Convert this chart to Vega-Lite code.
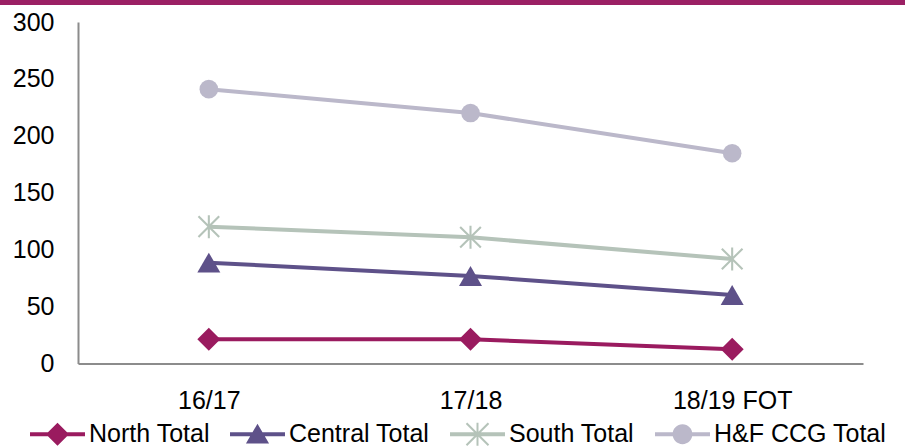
{
  "$schema": "https://vega.github.io/schema/vega-lite/v6.json",
  "width": 785,
  "height": 341.5,
  "autosize": {"type": "none"},
  "padding": {"left": 78, "top": 22, "right": 42, "bottom": 84.5},
  "background": "white",
  "config": {
    "view": {"stroke": null},
    "font": "Liberation Sans",
    "axis": {"labelFont": "Liberation Sans", "labelFontSize": 25, "labelColor": "#000000", "domainColor": "#8c8c8c", "domainWidth": 2, "ticks": false, "tickSize": 0, "grid": false, "title": null},
    "legend": {"labelFont": "Liberation Sans", "labelFontSize": 25, "labelColor": "#000000", "labelLimit": 0, "orient": "none", "legendX": -48, "legendY": 384.5, "direction": "horizontal", "symbolSize": 3025, "symbolStrokeWidth": 0, "labelOffset": 4, "columnPadding": 20, "padding": 0}
  },
  "data": {
    "values": [
      {"period": "16/17", "series": "North Total", "value": 21.3},
      {"period": "17/18", "series": "North Total", "value": 21.3},
      {"period": "18/19 FOT", "series": "North Total", "value": 12.5},
      {"period": "16/17", "series": "Central Total", "value": 88.6},
      {"period": "17/18", "series": "Central Total", "value": 76.9},
      {"period": "18/19 FOT", "series": "Central Total", "value": 60.2},
      {"period": "16/17", "series": "South Total", "value": 120.2},
      {"period": "17/18", "series": "South Total", "value": 110.9},
      {"period": "18/19 FOT", "series": "South Total", "value": 91.8},
      {"period": "16/17", "series": "H&F CCG Total", "value": 241},
      {"period": "17/18", "series": "H&F CCG Total", "value": 220},
      {"period": "18/19 FOT", "series": "H&F CCG Total", "value": 184.7}
    ]
  },
  "resolve": {"scale": {"x": "independent"}},
  "layer": [
    {
      "data": {"values": [{"band": "top"}]},
      "mark": {"type": "rule", "color": "#9b2064", "strokeWidth": 5, "clip": false},
      "encoding": {
        "x": {"datum": -0.0994, "type": "quantitative", "scale": {"domain": [0, 1], "nice": false, "zero": false}, "axis": null},
        "x2": {"datum": 1.054},
        "y": {"datum": 317.1, "type": "quantitative", "scale": {"domain": [0, 300], "nice": false}}
      }
    },
    {
      "encoding": {
        "x": {"field": "period", "type": "ordinal", "sort": ["16/17", "17/18", "18/19 FOT"], "scale": {"type": "point", "padding": 0.5}, "axis": {"labelAngle": 0, "labelPadding": 25}},
        "y": {"field": "value", "type": "quantitative", "scale": {"domain": [0, 300], "nice": false}, "axis": {"values": [0, 50, 100, 150, 200, 250, 300], "labelPadding": 24}}
      },
      "layer": [
        {
          "mark": {"type": "line", "strokeWidth": 4},
          "encoding": {
            "color": {
              "field": "series", "type": "nominal", "legend": {"title": null},
              "scale": {"domain": ["North Total", "Central Total", "South Total", "H&F CCG Total"], "range": ["#9a1b5f", "#5e5189", "#b5c3b9", "#bbb8ca"]}
            }
          }
        },
        {
          "transform": [{"filter": "datum.series === 'North Total'"}],
          "mark": {"type": "point", "shape": "diamond", "size": 529, "filled": true, "opacity": 1, "color": "#9a1b5f"}
        },
        {
          "transform": [{"filter": "datum.series === 'Central Total'"}],
          "mark": {"type": "point", "shape": "triangle-up", "size": 529, "filled": true, "opacity": 1, "color": "#5e5189"}
        },
        {
          "transform": [{"filter": "datum.series === 'South Total'"}],
          "mark": {"type": "point", "shape": "M-0.09,-1L0.09,-1L0.09,1L-0.09,1ZM-0.964,-0.836L-0.836,-0.964L0.964,0.836L0.836,0.964ZM0.836,-0.964L0.964,-0.836L-0.836,0.964L-0.964,0.836Z", "size": 529, "filled": true, "opacity": 1, "color": "#b5c3b9"}
        },
        {
          "transform": [{"filter": "datum.series === 'H&F CCG Total'"}],
          "mark": {"type": "point", "shape": "circle", "size": 346, "filled": true, "opacity": 1, "color": "#bbb8ca"}
        },
        {
          "transform": [{"filter": "datum.value < 0"}],
          "mark": {"type": "point", "filled": true, "opacity": 1, "strokeWidth": 0},
          "encoding": {
            "color": {"field": "series", "type": "nominal", "legend": {"title": null}},
            "shape": {
              "field": "series", "type": "nominal", "legend": {"title": null},
              "scale": {"domain": ["North Total", "Central Total", "South Total", "H&F CCG Total"], "range": [
                "M-1,-0.07L1,-0.07L1,0.07L-1,0.07ZM0,-0.42L0.42,0L0,0.42L-0.42,0Z",
                "M-1,-0.07L1,-0.07L1,0.07L-1,0.07ZM0,-0.38L0.42,0.34L-0.42,0.34Z",
                "M-1,-0.07L1,-0.07L1,0.07L-1,0.07ZM-0.036,-0.42L0.036,-0.42L0.036,0.42L-0.036,0.42ZM-0.426,-0.374L-0.374,-0.426L0.426,0.374L0.374,0.426ZM0.374,-0.426L0.426,-0.374L-0.374,0.426L-0.426,0.374Z",
                "M-1,-0.07L1,-0.07L1,0.07L-1,0.07ZM-0.36,0A0.36,0.36 0 1,1 0.36,0A0.36,0.36 0 1,1 -0.36,0Z"
              ]}
            }
          }
        }
      ]
    }
  ]
}
